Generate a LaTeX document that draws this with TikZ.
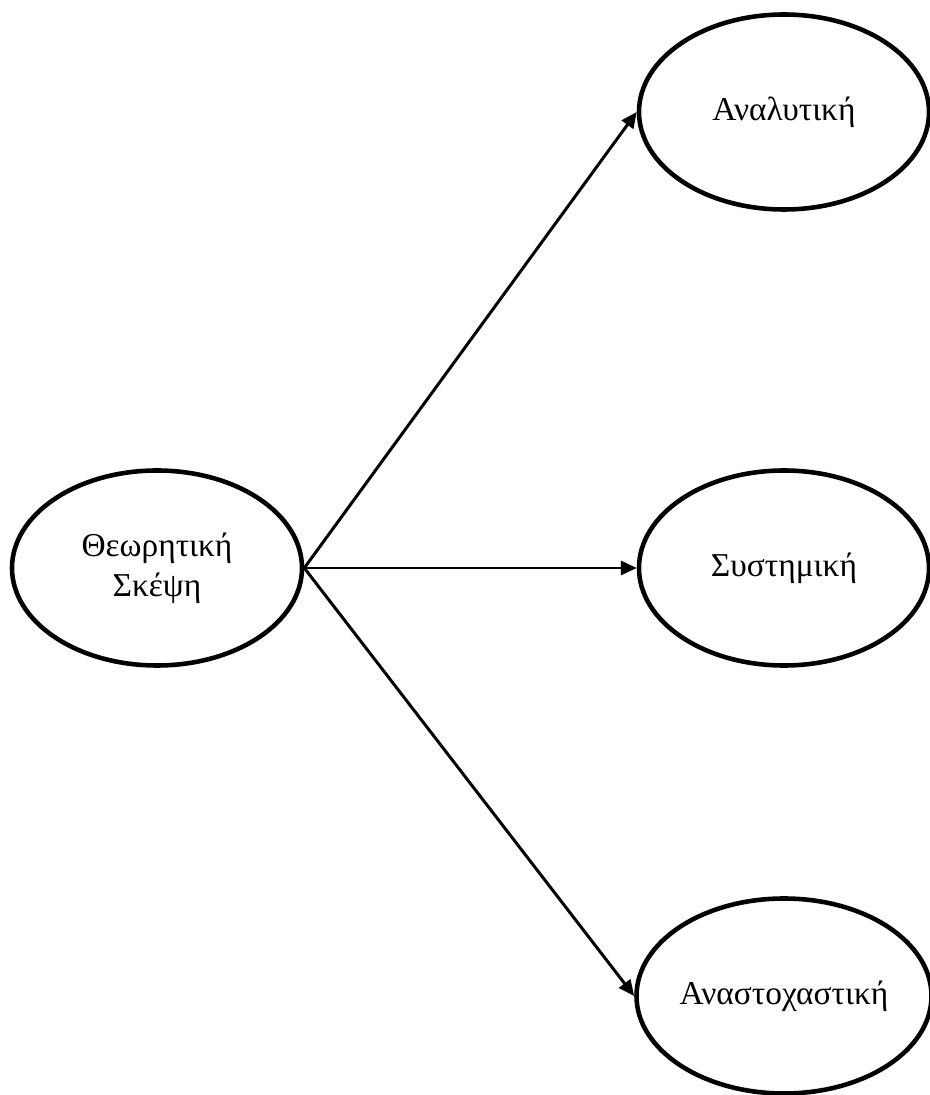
\documentclass[tikz,border=0pt]{standalone}
\usepackage{fontspec}
\setmainfont{Liberation Serif}
\usetikzlibrary{shapes.geometric,arrows.meta}

\begin{document}
\begin{tikzpicture}[
    oval/.style={draw, ellipse, line width=2.6pt, inner sep=0pt,
        minimum width=5.8cm, minimum height=3.9cm, align=center,
        font=\fontsize{19}{23}\selectfont},
    link/.style={-{Triangle[length=9pt,width=8pt]}, line width=1.7pt}
]
    \useasboundingbox (0,0) rectangle (18.58,21.9);
    % Draw ellipses
    \node[oval] (think) at (3.14,10.54) {Θεωρητική\\Σκέψη};
    \node[oval] (anal) at (15.68,19.66) {Αναλυτική};
    \node[oval] (syst) at (15.68,10.54) {Συστημική};
    \node[oval] (refl) at (15.68,1.98) {Αναστοχαστική};
    % Draw arrows
    \draw[link] (think.east) -- (anal.west);
    \draw[link] (think.east) -- (syst.west);
    \draw[link] (think.east) -- (refl.west);
\end{tikzpicture}
\end{document}
